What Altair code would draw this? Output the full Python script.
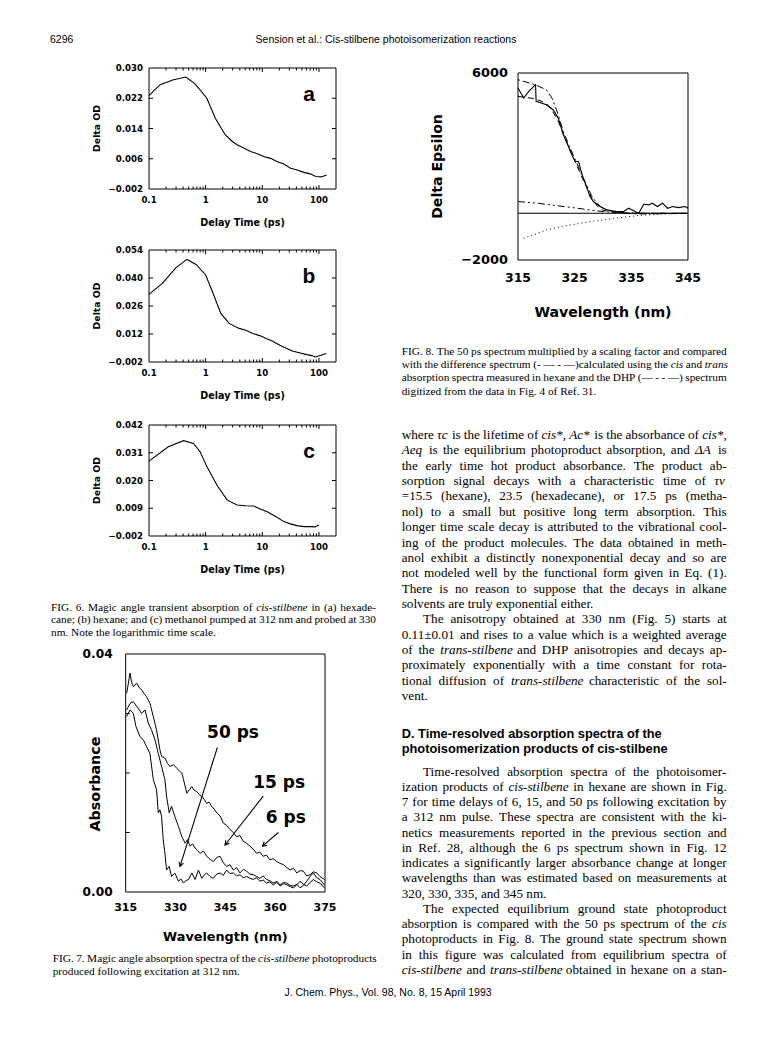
import math
import altair as alt
import pandas as pd

SANS = "Liberation Sans"
AXF = "DejaVu Sans"
SERIF = "Liberation Serif"
PAGE_W, PAGE_H = 756, 1028      # drawing area (page minus 8px margin)

# ---------------- Fig. 6 (transient absorption, log time) ----------------
X6_DOMAIN = [0.1, 200]
X6_TICKS = [0.1, 1, 10, 100]
X6_LABELS = ["0.1", "1", "10", "100"]
X6_MINOR = [0.2, 0.3, 0.4, 0.5, 0.6, 0.7, 0.8, 0.9, 2, 3, 4, 5, 6, 7, 8, 9,
            20, 30, 40, 50, 60, 70, 80, 90]

T_A = [0.1, 0.157, 0.27, 0.447, 0.65, 1.05, 1.48, 2.23, 3.0, 3.59, 4.5, 6.2, 8.0,
       10.6, 14, 18.4, 24, 31.6, 40, 54.5, 70, 87.7, 110, 137]
OD_A = [0.0227, 0.0256, 0.0269, 0.0276, 0.0258, 0.0220, 0.0167, 0.0123, 0.0105,
        0.0097, 0.0090, 0.0079, 0.0074, 0.0066, 0.0061, 0.0052, 0.0046, 0.0035,
        0.0031, 0.0024, 0.0020, 0.0013, 0.0012, 0.0017]
Y_A = [-0.002, 0.006, 0.014, 0.022, 0.030]
YL_A = ["\u22120.002", "0.006", "0.014", "0.022", "0.030"]

T_B = [0.1, 0.172, 0.297, 0.467, 0.676, 1.0, 1.32, 1.85, 2.6, 3.9, 5.0, 6.8, 9,
       11.7, 15, 20.4, 27, 35, 45, 61, 75, 86, 110, 135]
OD_B = [0.0318, 0.0373, 0.0451, 0.0493, 0.0468, 0.0415, 0.0331, 0.0223, 0.0173,
        0.0148, 0.0140, 0.0122, 0.0112, 0.0097, 0.0085, 0.0064, 0.0048, 0.0034,
        0.0026, 0.0017, 0.0012, 0.0005, 0.0014, 0.0022]
Y_B = [-0.002, 0.012, 0.026, 0.040, 0.054]
YL_B = ["\u22120.002", "0.012", "0.026", "0.040", "0.054"]

T_C = [0.1, 0.219, 0.407, 0.61, 0.80, 1.05, 1.58, 2.38, 3.57, 5.0, 7.1, 9.0, 12.2,
       17, 24, 31, 41, 55, 71, 85, 100]
OD_C = [0.0277, 0.0334, 0.0358, 0.0347, 0.0314, 0.0255, 0.0182, 0.0123, 0.0103,
        0.0100, 0.0099, 0.0088, 0.0076, 0.0058, 0.0037, 0.0028, 0.0021, 0.0017,
        0.0017, 0.0016, 0.0024]
Y_C = [-0.002, 0.009, 0.020, 0.031, 0.042]
YL_C = ["\u22120.002", "0.009", "0.020", "0.031", "0.042"]

# ---------------- Fig. 7 (spectra at 6, 15, 50 ps) ----------------
X7_TICKS = [315, 330, 345, 360, 375]
X7_LABELS = ["315", "330", "345", "360", "375"]
Y7_TICKS = [0.0, 0.04]
Y7_LABELS = ["0.00", "0.04"]
Y7_MINOR = [0.01, 0.02, 0.03]
WL_6 = [315.3, 316.3, 316.8, 317.3, 318.3, 319.1, 319.8, 320.6, 321.3, 322.3, 323.3,
        324.3, 325.3, 325.8, 326.8, 327.6, 328.3, 329.4, 330.4, 331.2, 331.9, 332.4,
        333.4, 334.2, 334.9, 335.6, 336.4, 337.1, 337.9, 338.7, 339.4, 340.1, 340.9,
        341.7, 342.4, 343.4, 344.4, 345.4, 346.4, 347.4, 348.4, 349.4, 350.4, 351.4,
        352.4, 353.4, 354.4, 355.4, 356.4, 357.4, 358.4, 359.4, 360.5, 361.5, 362.5,
        363.5, 364.5, 365.5, 366.5, 367.5, 368.5, 369.5, 370.5, 371.5, 372.5, 373.5,
        374.8]
AB_6 = [0.0334, 0.0368, 0.0352, 0.0345, 0.0351, 0.0343, 0.0340, 0.0333, 0.0328, 0.0317,
        0.0295, 0.0272, 0.0239, 0.0228, 0.0225, 0.0216, 0.0211, 0.0214, 0.0208, 0.0203,
        0.0200, 0.0189, 0.0166, 0.0172, 0.0177, 0.0171, 0.0169, 0.0164, 0.0161, 0.0155,
        0.0149, 0.0151, 0.0144, 0.0139, 0.0133, 0.0128, 0.0116, 0.0112, 0.0105, 0.0100,
        0.0093, 0.0095, 0.0085, 0.0082, 0.0077, 0.0072, 0.0065, 0.0067, 0.0060, 0.0062,
        0.0054, 0.0056, 0.0051, 0.0048, 0.0046, 0.0041, 0.0037, 0.0040, 0.0032, 0.0036,
        0.0035, 0.0027, 0.0029, 0.0034, 0.0032, 0.0026, 0.0021]
WL_15 = [315.3, 316.3, 317.3, 318.3, 319.1, 319.8, 320.8, 321.8, 322.8, 323.8, 324.8,
         325.8, 326.8, 327.3, 328.1, 328.8, 329.8, 330.9, 331.9, 332.9, 333.6, 334.4,
         335.1, 335.9, 336.6, 337.4, 338.4, 339.4, 340.4, 341.4, 342.4, 343.4, 344.4,
         345.4, 346.4, 347.4, 348.4, 349.4, 350.4, 351.4, 352.4, 353.4, 354.4, 355.4,
         356.4, 357.4, 358.4, 359.4, 360.5, 361.5, 362.5, 363.5, 364.5, 365.5, 366.5,
         367.5, 368.5, 369.5, 370.5, 371.5, 372.5, 373.5, 374.8]
AB_15 = [0.0306, 0.0317, 0.0320, 0.0312, 0.0306, 0.0300, 0.0306, 0.0284, 0.0272, 0.0256,
         0.0233, 0.0211, 0.0189, 0.0161, 0.0133, 0.0144, 0.0127, 0.0110, 0.0093, 0.0082,
         0.0088, 0.0077, 0.0081, 0.0074, 0.0070, 0.0065, 0.0069, 0.0060, 0.0055, 0.0051,
         0.0058, 0.0060, 0.0049, 0.0043, 0.0046, 0.0037, 0.0041, 0.0032, 0.0038, 0.0035,
         0.0030, 0.0029, 0.0026, 0.0023, 0.0027, 0.0021, 0.0019, 0.0015, 0.0018, 0.0012,
         0.0016, 0.0015, 0.0011, 0.0010, 0.0013, 0.0007, 0.0011, 0.0018, 0.0026, 0.0032,
         0.0024, 0.0021, 0.0012]
WL_50 = [315.3, 316.3, 317.3, 318.1, 319.3, 320.3, 321.3, 322.3, 323.3, 324.3, 324.8,
         325.3, 325.8, 326.3, 326.8, 327.3, 328.1, 328.8, 329.8, 330.9, 331.6, 332.4,
         333.1, 333.9, 334.9, 335.9, 336.9, 337.9, 338.7, 339.4, 340.4, 341.4, 342.4,
         343.4, 344.4, 345.4, 346.4, 347.4, 348.4, 349.4, 350.4, 351.4, 352.4, 353.4,
         354.4, 355.4, 356.4, 357.4, 358.4, 359.4, 360.5, 361.5, 362.5, 363.5, 364.5,
         365.5, 366.5, 367.5, 368.5, 369.5, 370.5, 371.5, 372.5, 373.5, 374.8]
AB_50 = [0.0295, 0.0306, 0.0300, 0.0278, 0.0261, 0.0256, 0.0244, 0.0233, 0.0189, 0.0172,
         0.0133, 0.0138, 0.0127, 0.0088, 0.0065, 0.0037, 0.0043, 0.0026, 0.0032, 0.0018,
         0.0022, 0.0015, 0.0019, 0.0021, 0.0032, 0.0021, 0.0037, 0.0023, 0.0029, 0.0032,
         0.0026, 0.0023, 0.0030, 0.0032, 0.0028, 0.0037, 0.0031, 0.0032, 0.0027, 0.0029,
         0.0024, 0.0026, 0.0023, 0.0021, 0.0024, 0.0018, 0.0020, 0.0015, 0.0017, 0.0012,
         0.0016, 0.0010, 0.0014, 0.0012, 0.0009, 0.0007, 0.0012, 0.0018, 0.0013, 0.0010,
         0.0016, 0.0021, 0.0017, 0.0015, 0.0007]
LBL7_TEXT = ["50  ps", "15  ps", "6  ps"]
LBL7_WL = [347.3, 361.2, 363.2]
LBL7_AB = [0.0267, 0.0184, 0.0124]
ARR7_WL1 = [342.6, 356.4, 360.95]
ARR7_AB1 = [0.0243, 0.0161, 0.0100]
ARR7_WL2 = [331.35, 344.9, 356.2]
ARR7_AB2 = [0.0043, 0.0079, 0.0077]

# ---------------- Fig. 8 (50 ps spectrum vs equilibrium) ----------------
X8_TICKS = [315, 325, 335, 345]
X8_LABELS = ["315", "325", "335", "345"]
Y8_TICKS = [-2000, 6000]
Y8_LABELS = ["\u22122000", "6000"]
WL8_DATA = [315, 316, 316.9, 318.1, 318.2, 320, 321.2, 322.1, 323, 323.9, 324.5, 325.1,
            325.7, 326, 326.5, 327.1, 327.7, 328.3, 329.5, 330.7, 332.4, 333.6, 334.5,
            335.7, 336.3, 337.2, 338.1, 338.7, 339.6, 340.5, 341.4, 342.3, 343.3,
            344.5, 345]
EPS8_DATA = [5357, 4929, 5214, 5500, 4786, 4643, 4430, 4071, 3357, 2857, 2500, 2214,
             2214, 1929, 1500, 1143, 714, 500, 286, 143, 71, 71, 214, 71, 0, 386, 357,
             429, 286, 429, 214, 286, 243, 286, 214]
WL8_DIFF = [315, 318, 320, 321, 322, 323, 324, 325, 326, 327, 328, 329, 330, 332, 334,
            336, 340, 345]
EPS8_DIFF = [5713, 5500, 5286, 4929, 4286, 3500, 2900, 2350, 1800, 1250, 750, 400,
             200, 60, 0, -30, -20, -10]
WL8_DASH = [315, 318, 320, 321, 322, 323, 324, 325, 326, 327, 328, 329, 330, 332, 335,
            340, 345]
EPS8_DASH = [5000, 4900, 4700, 4400, 4000, 3400, 2800, 2250, 1700, 1150, 650, 300,
             130, 30, 0, 0, 0]
WL8_DHP = [315, 318, 320, 322, 325, 328, 330, 333, 336, 340, 345]
EPS8_DHP = [500, 440, 380, 320, 230, 130, 70, 20, 0, 0, 0]
WL8_DOT = [316, 318, 320, 323, 325, 328, 330, 333, 336, 340, 345]
EPS8_DOT = [-1072, -900, -714, -550, -471, -350, -286, -190, -100, -30, 0]

# ---------------- page text ----------------
HEADER = ["6296", "Sension et al.: Cis-stilbene photoisomerization reactions"]
FOOTER = "J. Chem. Phys., Vol. 98, No. 8, 15 April 1993"
CAP6 = ["FIG. 6. Magic angle transient absorption of cis-stilbene in (a) hexade-",
        "cane; (b) hexane; and (c) methanol pumped at 312 nm and probed at 330",
        "nm. Note the logarithmic time scale."]
CAP7 = ["FIG. 7. Magic angle absorption spectra of the cis-stilbene photoproducts",
        "produced following excitation at 312 nm."]
CAP8 = ["FIG. 8. The 50 ps spectrum multiplied by a scaling factor and compared",
        "with the difference spectrum (- \u2014 - \u2014)calculated using the cis and trans",
        "absorption spectra measured in hexane and the DHP (\u2014 - - \u2014) spectrum",
        "digitized from the data in Fig. 4 of Ref. 31."]
BODY1 = ["where \u03c4c is the lifetime of cis*, Ac* is the absorbance of cis*,",
         "Aeq is the equilibrium photoproduct absorption, and \u0394A is",
         "the early time hot product absorbance. The product ab-",
         "sorption signal decays with a characteristic time of \u03c4v",
         "=15.5 (hexane), 23.5 (hexadecane), or 17.5 ps (metha-",
         "nol) to a small but positive long term absorption. This",
         "longer time scale decay is attributed to the vibrational cool-",
         "ing of the product molecules. The data obtained in meth-",
         "anol exhibit a distinctly nonexponential decay and so are",
         "not modeled well by the functional form given in Eq. (1).",
         "There is no reason to suppose that the decays in alkane",
         "solvents are truly exponential either.",
         "The anisotropy obtained at 330 nm (Fig. 5) starts at",
         "0.11\u00b10.01 and rises to a value which is a weighted average",
         "of the trans-stilbene and DHP anisotropies and decays ap-",
         "proximately exponentially with a time constant for rota-",
         "tional diffusion of trans-stilbene characteristic of the sol-",
         "vent."]
HEADING = ["D. Time-resolved absorption spectra of the",
           "photoisomerization products of cis-stilbene"]
BODY2 = ["Time-resolved absorption spectra of the photoisomer-",
         "ization products of cis-stilbene in hexane are shown in Fig.",
         "7 for time delays of 6, 15, and 50 ps following excitation by",
         "a 312 nm pulse. These spectra are consistent with the ki-",
         "netics measurements reported in the previous section and",
         "in Ref. 28, although the 6 ps spectrum shown in Fig. 12",
         "indicates a significantly larger absorbance change at longer",
         "wavelengths than was estimated based on measurements at",
         "320, 330, 335, and 345 nm.",
         "The expected equilibrium ground state photoproduct",
         "absorption is compared with the 50 ps spectrum of the cis",
         "photoproducts in Fig. 8. The ground state spectrum shown",
         "in this figure was calculated from equilibrium spectra of",
         "cis-stilbene and trans-stilbene obtained in hexane on a stan-"]
ITALIC_WORDS = {"cis-stilbene", "cis", "trans", "trans-stilbene", "cis*,",
                "\u03c4c", "Ac*", "Aeq", "\u0394A", "\u03c4v"}
# paragraph structure: (first-line indents, unjustified last lines)
BODY1_INDENT, BODY1_LAST = [12], [11, 17]
BODY2_INDENT, BODY2_LAST = [0, 9], [8]

# ---------------- frame geometry (page pixels: left, right, top, bottom) ----------------
BOX_A = (149, 336, 68, 189)
BOX_B = (149, 336, 250, 362)
BOX_C = (149, 336, 425, 536)
BOX_7 = (125.7, 325, 654, 892)
BOX_8 = (518, 688, 73, 260)


def xscale(box, domain, kind="linear"):
    return alt.Scale(type=kind, domain=domain, range=[box[0] - 8, box[1] - 8],
                     nice=False, zero=False)


def yscale(box, domain):
    return alt.Scale(domain=domain, range=[box[3] - 8, box[2] - 8], nice=False,
                     zero=False)


def mid(domain, kind="linear"):
    if kind == "log":
        return 10 ** ((math.log10(domain[0]) + math.log10(domain[1])) / 2)
    return (domain[0] + domain[1]) / 2


def frame(xs, ys, xd, yd):
    df = pd.DataFrame({"x1": [xd[0]], "x2": [xd[1]], "y1": [yd[0]], "y2": [yd[1]]})
    return alt.Chart(df).mark_rect(fillOpacity=0, stroke="black", strokeWidth=1).encode(
        x=alt.X("x1:Q", scale=xs, axis=None), x2="x2:Q",
        y=alt.Y("y1:Q", scale=ys, axis=None), y2="y2:Q")


def yticks_at(xs, ys, vals, edge, length):
    df = pd.DataFrame({"v": vals, "e": [edge] * len(vals)})
    return alt.Chart(df).mark_rule(color="black", strokeWidth=1, x2Offset=length).encode(
        y=alt.Y("v:Q", scale=ys, axis=None), x=alt.X("e:Q", scale=xs, axis=None),
        x2="e:Q")


def xticks_at(xs, ys, vals, edge, length):
    df = pd.DataFrame({"v": vals, "e": [edge] * len(vals)})
    return alt.Chart(df).mark_rule(color="black", strokeWidth=1, y2Offset=length).encode(
        x=alt.X("v:Q", scale=xs, axis=None), y=alt.Y("e:Q", scale=ys, axis=None),
        y2="e:Q")


def ylabels(xs, ys, vals, labels, edge, size, pad):
    df = pd.DataFrame({"v": vals, "t": labels, "e": [edge] * len(vals)})
    return alt.Chart(df).mark_text(
        align="right", baseline="middle", font=AXF, fontWeight="bold", fontSize=size,
        color="black", xOffset=-pad).encode(
        x=alt.X("e:Q", scale=xs, axis=None), y=alt.Y("v:Q", scale=ys, axis=None),
        text="t:N")


def xlabels(xs, ys, vals, labels, edge, size, off):
    df = pd.DataFrame({"v": vals, "t": labels, "e": [edge] * len(vals)})
    return alt.Chart(df).mark_text(
        align="center", baseline="middle", font=AXF, fontWeight="bold", fontSize=size,
        color="black", yOffset=off).encode(
        x=alt.X("v:Q", scale=xs, axis=None), y=alt.Y("e:Q", scale=ys, axis=None),
        text="t:N")


def ytitle(xs, ys, text, xval, yval, size, off, yoff=0):
    df = pd.DataFrame({"x": [xval], "y": [yval], "t": [text]})
    return alt.Chart(df).mark_text(
        align="center", baseline="middle", font=AXF, fontWeight="bold", fontSize=size,
        color="black", angle=270, xOffset=-off, yOffset=yoff).encode(
        x=alt.X("x:Q", scale=xs, axis=None), y=alt.Y("y:Q", scale=ys, axis=None),
        text="t:N")


def xtitle(xs, ys, text, xval, yval, size, off):
    df = pd.DataFrame({"x": [xval], "y": [yval], "t": [text]})
    return alt.Chart(df).mark_text(
        align="center", baseline="middle", font=AXF, fontWeight="bold", fontSize=size,
        color="black", yOffset=off).encode(
        x=alt.X("x:Q", scale=xs, axis=None), y=alt.Y("y:Q", scale=ys, axis=None),
        text="t:N")


def fig6_panel(t, od, yvals, ylabs, letter, box):
    xs = xscale(box, X6_DOMAIN, "log")
    yd = [yvals[0], yvals[-1]]
    ys = yscale(box, yd)
    df = pd.DataFrame({"t": t, "od": od})
    line = alt.Chart(df).mark_line(color="black", strokeWidth=1.1).encode(
        x=alt.X("t:Q", scale=xs, axis=None), y=alt.Y("od:Q", scale=ys, axis=None))
    lab = alt.Chart(pd.DataFrame({"s": [letter], "x": [X6_DOMAIN[1]],
                                  "y": [yvals[-1]]})).mark_text(
        font=SANS, fontSize=21, fontWeight="bold", baseline="middle", align="center",
        xOffset=-27, yOffset=27).encode(text="s:N", x=alt.X("x:Q", scale=xs, axis=None),
                                        y=alt.Y("y:Q", scale=ys, axis=None))
    inner = yvals[1:-1]
    return alt.layer(
        frame(xs, ys, X6_DOMAIN, yd),
        yticks_at(xs, ys, inner, X6_DOMAIN[0], 4),
        yticks_at(xs, ys, inner, X6_DOMAIN[1], -4),
        xticks_at(xs, ys, X6_MINOR, yvals[0], -2.5),
        xticks_at(xs, ys, X6_MINOR, yvals[-1], 2.5),
        xticks_at(xs, ys, X6_TICKS[1:], yvals[0], -4),
        xticks_at(xs, ys, X6_TICKS[1:], yvals[-1], 4),
        ylabels(xs, ys, yvals, ylabs, X6_DOMAIN[0], 8.6, 6),
        xlabels(xs, ys, X6_TICKS, X6_LABELS, yvals[0], 8.6, 11),
        ytitle(xs, ys, "Delta  OD", X6_DOMAIN[0], mid(yd), 9.3, 52),
        xtitle(xs, ys, "Delay  Time  (ps)", mid(X6_DOMAIN, "log"), yvals[0], 9.6, 33.5),
        line, lab)


panel_a = fig6_panel(T_A, OD_A, Y_A, YL_A, "a", BOX_A)
panel_b = fig6_panel(T_B, OD_B, Y_B, YL_B, "b", BOX_B)
panel_c = fig6_panel(T_C, OD_C, Y_C, YL_C, "c", BOX_C)

# ---------------- Fig. 7 panel ----------------
X7_DOMAIN = [X7_TICKS[0], X7_TICKS[-1]]
Y7_DOMAIN = [Y7_TICKS[0], Y7_TICKS[-1]]
xs7 = xscale(BOX_7, X7_DOMAIN)
ys7 = yscale(BOX_7, Y7_DOMAIN)
df7 = pd.concat([
    pd.DataFrame({"wl": WL_6, "ab": AB_6, "s": "6 ps"}),
    pd.DataFrame({"wl": WL_15, "ab": AB_15, "s": "15 ps"}),
    pd.DataFrame({"wl": WL_50, "ab": AB_50, "s": "50 ps"}),
])
lines7 = alt.Chart(df7).mark_line(color="black", strokeWidth=1).encode(
    x=alt.X("wl:Q", scale=xs7, axis=None), y=alt.Y("ab:Q", scale=ys7, axis=None),
    detail="s:N")
lbl7 = alt.Chart(pd.DataFrame({"wl": LBL7_WL, "ab": LBL7_AB, "t": LBL7_TEXT})).mark_text(
    font=AXF, fontSize=17, fontWeight="bold", baseline="middle", align="center").encode(
    x=alt.X("wl:Q", scale=xs7, axis=None), y=alt.Y("ab:Q", scale=ys7, axis=None),
    text="t:N")
arr_df = pd.DataFrame({"x1": ARR7_WL1, "y1": ARR7_AB1, "x2": ARR7_WL2, "y2": ARR7_AB2})
arr7 = alt.Chart(arr_df).mark_rule(color="black", strokeWidth=1.1).encode(
    x=alt.X("x1:Q", scale=xs7, axis=None), y=alt.Y("y1:Q", scale=ys7, axis=None),
    x2="x2:Q", y2="y2:Q")
kx = (BOX_7[1] - BOX_7[0]) / (X7_DOMAIN[1] - X7_DOMAIN[0])
ky = (BOX_7[3] - BOX_7[2]) / (Y7_DOMAIN[1] - Y7_DOMAIN[0])
head7 = alt.Chart(arr_df).transform_calculate(
    ang=(f"(atan2(-(datum.x2 - datum.x1) * {kx}, -(datum.y2 - datum.y1) * {ky})"
         " * 180 / PI + 360) % 360")
).mark_point(shape="M-0.55,-1L0,0L0.55,-1", filled=False, size=70, color="black",
             strokeWidth=1.1, opacity=1).encode(
    x=alt.X("x2:Q", scale=xs7, axis=None), y=alt.Y("y2:Q", scale=ys7, axis=None),
    angle=alt.Angle("ang:Q", scale=None))
panel7 = alt.layer(
    frame(xs7, ys7, X7_DOMAIN, Y7_DOMAIN),
    yticks_at(xs7, ys7, Y7_MINOR, X7_DOMAIN[0], 4),
    ylabels(xs7, ys7, Y7_TICKS, Y7_LABELS, X7_DOMAIN[0], 12.2, 13),
    xlabels(xs7, ys7, X7_TICKS, X7_LABELS, Y7_DOMAIN[0], 11, 15.7),
    ytitle(xs7, ys7, "Absorbance", X7_DOMAIN[0], mid(Y7_DOMAIN), 14.3, 29.7, 11),
    xtitle(xs7, ys7, "Wavelength  (nm)", mid(X7_DOMAIN), Y7_DOMAIN[0], 12.8, 45.3),
    lines7, lbl7, arr7, head7)

# ---------------- Fig. 8 panel ----------------
X8_DOMAIN = [X8_TICKS[0], X8_TICKS[-1]]
Y8_DOMAIN = [Y8_TICKS[0], Y8_TICKS[-1]]
xs8 = xscale(BOX_8, X8_DOMAIN)
ys8 = yscale(BOX_8, Y8_DOMAIN)


def line8(wl, eps, dash, width=1.0):
    return alt.Chart(pd.DataFrame({"wl": wl, "eps": eps})).mark_line(
        color="black", strokeWidth=width, strokeDash=dash).encode(
        x=alt.X("wl:Q", scale=xs8, axis=None), y=alt.Y("eps:Q", scale=ys8, axis=None))


data8 = alt.Chart(pd.DataFrame({"wl": WL8_DATA, "eps": EPS8_DATA})).mark_line(
    color="black", strokeWidth=1.1).encode(
    x=alt.X("wl:Q", scale=xs8, axis=None), y=alt.Y("eps:Q", scale=ys8, axis=None))
zero8 = alt.Chart(pd.DataFrame({"z": [0, 0], "w": X8_DOMAIN})).mark_line(
    color="black", strokeWidth=1.2).encode(
    y=alt.Y("z:Q", scale=ys8, axis=None), x=alt.X("w:Q", scale=xs8, axis=None))
panel8 = alt.layer(
    frame(xs8, ys8, X8_DOMAIN, Y8_DOMAIN),
    ylabels(xs8, ys8, Y8_TICKS, Y8_LABELS, X8_DOMAIN[0], 12.9, 10),
    xlabels(xs8, ys8, X8_TICKS, X8_LABELS, Y8_DOMAIN[0], 12.5, 17.7),
    ytitle(xs8, ys8, "Delta  Epsilon", X8_DOMAIN[0], mid(Y8_DOMAIN), 14.1, 79.7),
    xtitle(xs8, ys8, "Wavelength  (nm)", mid(X8_DOMAIN), Y8_DOMAIN[0], 14.1, 53.3),
    zero8,
    line8(WL8_DOT, EPS8_DOT, [1, 3]),
    line8(WL8_DHP, EPS8_DHP, [7, 3, 2, 3, 2, 3]),
    line8(WL8_DASH, EPS8_DASH, [6, 4]),
    line8(WL8_DIFF, EPS8_DIFF, [2, 3, 7, 3]),
    data8)

# ---------------- justified serif text (Times metrics, Liberation Serif) ----------------
TIMES_W = {" ": 250, "a": 444, "b": 500, "c": 444, "d": 500, "e": 444, "f": 333,
           "g": 500, "h": 500, "i": 278, "j": 278, "k": 500, "l": 278, "m": 778,
           "n": 500, "o": 500, "p": 500, "q": 500, "r": 333, "s": 389, "t": 278,
           "u": 500, "v": 500, "w": 722, "x": 500, "y": 500, "z": 444, "A": 722,
           "B": 667, "C": 667, "D": 722, "E": 611, "F": 556, "G": 722, "H": 722,
           "I": 333, "J": 389, "K": 722, "L": 611, "M": 889, "N": 722, "O": 722,
           "P": 556, "Q": 722, "R": 667, "S": 556, "T": 611, "U": 722, "V": 722,
           "W": 944, "X": 722, "Y": 722, "Z": 611, ".": 250, ",": 250, ":": 278,
           ";": 278, "-": 333, "(": 333, ")": 333, "*": 500, "=": 564, "\u00b1": 564,
           "\u0394": 612, "\u03c4": 440, "\u2014": 1000}


def text_width(s, size):
    return sum(TIMES_W.get(ch, 500) for ch in s) / 1000 * size


def justify(lines, x0, width, ys_, size, indents=(), last=(), indent=21.3):
    rows = []
    for i, line in enumerate(lines):
        xs_ = x0 + (indent if i in indents else 0)
        avail = x0 + width - xs_
        words = line.split(" ")
        ws = [text_width(w, size) for w in words]
        if i in last or len(words) == 1:
            gap = 0.25 * size
        else:
            gap = (avail - sum(ws)) / (len(words) - 1)
        x = xs_
        for w, ww in zip(words, ws):
            rows.append((x, ys_[i], w, w in ITALIC_WORDS))
            x += ww + gap
    return rows


def word_layers(rows, size):
    df = pd.DataFrame(rows, columns=["px", "py", "txt", "it"])
    out = []
    for flag, style in ((False, "normal"), (True, "italic")):
        sub = df[df["it"] == flag]
        if len(sub):
            out.append(text_layer(list(sub["px"]), list(sub["py"]), list(sub["txt"]),
                                  SERIF, size, style=style))
    return out


def text_layer(xs_, ys_, texts, font, size, weight="normal", style="normal",
               align="left"):
    df = pd.DataFrame({"px": xs_, "py": ys_, "txt": texts})
    return alt.Chart(df).transform_calculate(
        rx="datum.px - 8", ry="datum.py - 8"
    ).mark_text(align=align, baseline="middle", font=font, fontSize=size,
                fontWeight=weight, fontStyle=style, color="black").encode(
        x=alt.X("rx:Q", scale=None, axis=None),
        y=alt.Y("ry:Q", scale=None, axis=None),
        text="txt:N")


BODY_SIZE, CAP_SIZE = 13.2, 11.3
body1_y = [435.0 + 15.36 * i for i in range(len(BODY1))]
body2_y = [771.7 + 15.25 * i for i in range(len(BODY2))]
words = []
words += justify(CAP6, 51, 325, [607.5, 620.2, 632.9], CAP_SIZE, last=[2])
words_cap = list(words)
words_cap += justify(CAP7, 52.7, 324, [959, 971.7], CAP_SIZE, last=[1])
words_cap += justify(CAP8, 401.7, 325, [352, 365, 378.3, 391.5], CAP_SIZE, last=[3])
words_body = justify(BODY1, 401.7, 325, body1_y, BODY_SIZE, BODY1_INDENT, BODY1_LAST)
words_body += justify(BODY2, 401.7, 325, body2_y, BODY_SIZE, BODY2_INDENT, BODY2_LAST)

texts = [
    text_layer([50], [40], [HEADER[0]], SANS, 10.5),
    text_layer([386], [40], [HEADER[1]], SANS, 10.5, align="center"),
    text_layer([388], [993], [FOOTER], SANS, 10.5, align="center"),
    text_layer([401.7] * 2, [734.3, 749], HEADING, SANS, 12.8, weight="bold"),
] + word_layers(words_cap, CAP_SIZE) + word_layers(words_body, BODY_SIZE)

chart = alt.layer(panel_a, panel_b, panel_c, panel7, panel8, *texts).resolve_scale(
    x="independent", y="independent"
).properties(
    width=PAGE_W, height=PAGE_H, padding=0,
    autosize=alt.AutoSizeParams(type="none"),
).configure_view(stroke="transparent")

chart.save("out.html", embed_options={"renderer": "svg", "actions": False})
